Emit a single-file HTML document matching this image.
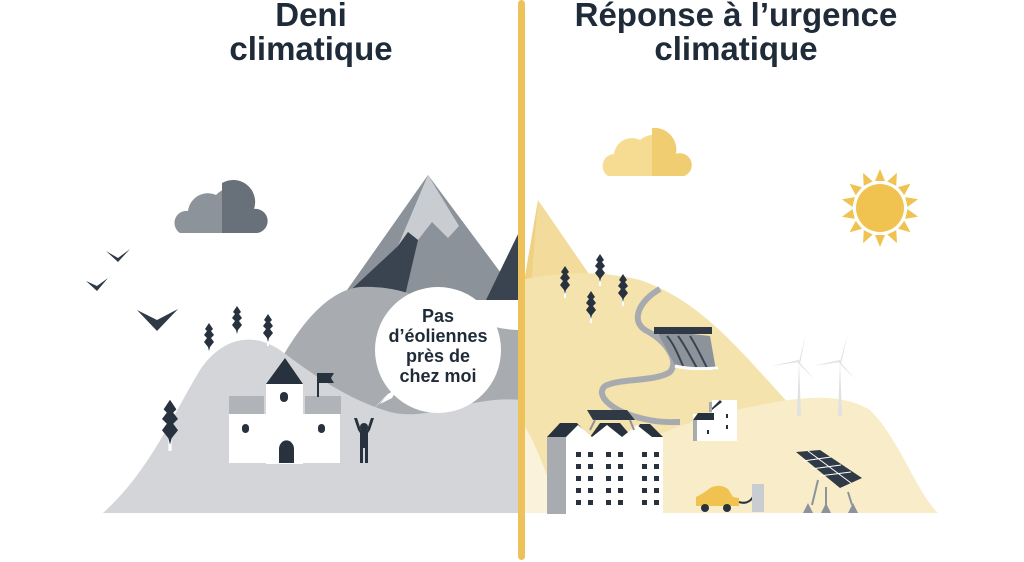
<!DOCTYPE html>
<html><head><meta charset="utf-8"><style>
html,body{margin:0;padding:0;background:#fff;width:1024px;height:562px;overflow:hidden}
svg{display:block}
text{font-family:"Liberation Sans",sans-serif;font-weight:bold;fill:#1f2b38}
</style></head><body>
<svg width="1024" height="562" viewBox="0 0 1024 562" xmlns="http://www.w3.org/2000/svg">
<defs>
<g id="tree"><rect x="-1" y="0" width="2" height="30" fill="#fff"/><path d="M0,-2 L4,4 L2,6 L5,10 L2,13 L5,17 L1,22 L0,26 L-1,22 L-5,17 L-2,13 L-5,10 L-2,6 L-4,4Z" fill="#27323e"/></g>
</defs>
<!-- titles -->
<text x="311" y="26" font-size="33" text-anchor="middle">Deni</text>
<text x="311" y="60" font-size="33" text-anchor="middle">climatique</text>
<text x="736" y="26" font-size="33" text-anchor="middle">Réponse à l’urgence</text>
<text x="736" y="60" font-size="33" text-anchor="middle">climatique</text>

<!-- LEFT -->
<path d="M180,233 a12,12 0 0 1 8,-22 a20,20 0 0 1 28,-16 a22,22 0 0 1 38,14 a12,12 0 0 1 3,24 Z" fill="#8d939a"/>
<path d="M222,183 a22,22 0 0 1 32,26 a12,12 0 0 1 3,24 L222,233Z" fill="#68717a"/>
<path d="M106,251 L118,258 L130,249 L118,262Z" fill="#2f3a46"/>
<path d="M86,281 L97,286 L108,278 L97,291Z" fill="#2f3a46"/>
<path d="M137,310 L157,320 L178,309 L157,331Z" fill="#2f3a46"/>
<path d="M340,300 L428,175 L521,300Z" fill="#8c929a"/>
<path d="M428,175 L459,226 L448,238 L432,222 L418,240 L408,232 L398,246Z" fill="#c9ccd0"/>
<path d="M340,300 L398,246 L408,232 L418,240 L404,300Z" fill="#3a4450"/>
<path d="M486,300 L521,228 L521,300Z" fill="#3a4450"/>
<path d="M270,380 C300,320 330,290 360,287 C400,285 430,300 470,320 C500,330 515,330 521,330 L521,513 L270,513Z" fill="#a8acb1"/>
<path d="M103,513 C150,470 170,420 200,370 C220,340 250,330 280,350 C320,380 350,400 390,412 C430,422 470,395 521,400 L521,513Z" fill="#d3d5d8"/>
<circle cx="438" cy="350" r="63" fill="#fff"/>
<path d="M372,410 L385,398 L380,404 L392,398 L398,388 L388,394 L392,390Z" fill="#fff"/>
<text x="438" y="322" font-size="18" text-anchor="middle">Pas</text>
<text x="438" y="342" font-size="18" text-anchor="middle">d’éoliennes</text>
<text x="438" y="362" font-size="18" text-anchor="middle">près de</text>
<text x="438" y="382" font-size="18" text-anchor="middle">chez moi</text>
<use href="#tree" x="209" y="325"/>
<use href="#tree" x="237" y="308"/>
<use href="#tree" x="268" y="316"/>
<g transform="translate(170,403) scale(1.6)"><use href="#tree"/></g>
<rect x="229" y="396" width="35" height="18" fill="#b0b3b7"/>
<rect x="305" y="396" width="36" height="18" fill="#b0b3b7"/>
<rect x="229" y="414" width="111" height="49" fill="#fff"/>
<rect x="266" y="384" width="37" height="80" fill="#fff"/>
<path d="M266,384 L285,358 L303,384Z" fill="#27323e"/>
<path d="M279,463 v-14 a7,8 0 0 1 15,0 v14Z" fill="#27323e"/>
<rect x="280" y="392" width="8" height="10" rx="4" fill="#27323e"/>
<rect x="242" y="424" width="7" height="9" rx="3.5" fill="#27323e"/>
<rect x="318" y="424" width="7" height="9" rx="3.5" fill="#27323e"/>
<rect x="317" y="373" width="2" height="24" fill="#27323e"/>
<path d="M319,373 h15 l-3,5 l3,5 h-15Z" fill="#27323e"/>
<circle cx="364" cy="427" r="4" fill="#27323e"/>
<path d="M354,418 L358,430 L360,433 V463 H363 V448 H365 V463 H368 V433 L370,430 L374,418 L371,418 L367,430 H361 L357,418Z" fill="#27323e"/>

<!-- RIGHT -->
<path d="M521,300 L538,200 L600,290Z" fill="#f3dc9b"/>
<path d="M521,300 L538,200 L530,300Z" fill="#efd184"/>
<path d="M521,280 C560,272 600,270 640,280 C700,300 740,350 790,405 L521,513Z" fill="#f5e3ae"/>
<path d="M560,513 C600,450 680,420 760,405 C800,397 840,392 870,410 C900,440 915,490 938,513Z" fill="#f9ecc8"/>
<path d="M521,420 C540,450 548,480 560,513 L521,513Z" fill="#fbf2db"/>
<g transform="translate(880,208)" fill="#f0c24f">
<path d="M-5,-27 L0,-39 L5,-27Z"/><path d="M-5,-27 L0,-39 L5,-27Z" transform="rotate(25.7)"/><path d="M-5,-27 L0,-39 L5,-27Z" transform="rotate(51.4)"/><path d="M-5,-27 L0,-39 L5,-27Z" transform="rotate(77.1)"/><path d="M-5,-27 L0,-39 L5,-27Z" transform="rotate(102.8)"/><path d="M-5,-27 L0,-39 L5,-27Z" transform="rotate(128.5)"/><path d="M-5,-27 L0,-39 L5,-27Z" transform="rotate(154.2)"/><path d="M-5,-27 L0,-39 L5,-27Z" transform="rotate(180)"/><path d="M-5,-27 L0,-39 L5,-27Z" transform="rotate(205.7)"/><path d="M-5,-27 L0,-39 L5,-27Z" transform="rotate(231.4)"/><path d="M-5,-27 L0,-39 L5,-27Z" transform="rotate(257.1)"/><path d="M-5,-27 L0,-39 L5,-27Z" transform="rotate(282.8)"/><path d="M-5,-27 L0,-39 L5,-27Z" transform="rotate(308.5)"/><path d="M-5,-27 L0,-39 L5,-27Z" transform="rotate(334.2)"/>
<circle r="27" fill="#fff"/>
<circle r="24"/>
</g>
<path d="M608,176 a12,12 0 0 1 6,-22 a18,18 0 0 1 26,-14 a22,22 0 0 1 36,14 a11,11 0 0 1 8,22Z" fill="#f6dc92"/>
<path d="M652,128 a22,22 0 0 1 24,26 a11,11 0 0 1 8,22 L652,176Z" fill="#f1cd72"/>
<use href="#tree" x="565" y="268"/>
<use href="#tree" x="600" y="256"/>
<use href="#tree" x="591" y="293"/>
<use href="#tree" x="623" y="276"/>
<path d="M660,289 C640,300 630,320 645,330 C665,340 680,360 670,372 C655,382 620,378 605,386 C595,395 610,410 640,418 C660,423 670,422 680,422" fill="none" stroke="#a7abb0" stroke-width="6"/>
<path d="M656,330 L675,365 L716,370 L710,336Z" fill="#8d939a"/>
<path d="M667,336 C675,345 680,360 684,368 M678,336 C685,345 692,360 697,368 M690,336 C697,347 703,360 707,368" stroke="#3a4450" stroke-width="2" fill="none"/>
<rect x="654" y="327" width="58" height="7" fill="#2f3a46"/>
<path d="M675,366 Q690,370 718,368" stroke="#fff" stroke-width="3" fill="none"/>
<g fill="#dfe1e3">
<path d="M797,416 L799,362 L801,416Z"/><path d="M799,362 L806,333 L800,364Z"/><path d="M799,362 L771,366 L799,360Z"/><path d="M799,362 L815,380 L798,363Z"/>
<path d="M838,416 L840,362 L842,416Z"/><path d="M840,362 L848,333 L841,364Z"/><path d="M840,362 L812,366 L840,360Z"/><path d="M840,362 L856,380 L839,363Z"/>
</g>
<rect x="712" y="400" width="25" height="41" fill="#fff"/>
<rect x="709" y="402" width="3" height="10" fill="#a8acb1"/>
<rect x="693" y="414" width="20" height="27" fill="#fff"/>
<rect x="693" y="420" width="4" height="21" fill="#a8acb1"/>
<path d="M693,420 L698,413 L714,413 L714,420Z" fill="#27323e"/>
<path d="M712,408 L720,400 L722,402 L712,410Z" fill="#27323e"/>
<rect x="726" y="414" width="2" height="4" fill="#27323e"/><rect x="726" y="425" width="2" height="4" fill="#27323e"/><rect x="707" y="430" width="2" height="4" fill="#27323e"/>
<path d="M547,437 L560,423 L577,423 L590,437 L600,423 L620,423 L632,437 L640,424 L650,424 L663,437Z" fill="#27323e"/>
<rect x="547" y="437" width="19" height="77" fill="#a8acb1"/>
<path d="M566,437 L578,425 L592,437 L607,425 L622,437 L637,425 L652,437 L663,437 L663,514 L566,514Z" fill="#fff"/>
<g fill="#27323e">
<g id="wrow"><rect x="576" y="452" width="5" height="5"/><rect x="588" y="452" width="5" height="5"/><rect x="606" y="452" width="5" height="5"/><rect x="618" y="452" width="5" height="5"/><rect x="642" y="452" width="5" height="5"/><rect x="654" y="452" width="5" height="5"/></g>
<use href="#wrow" y="12"/><use href="#wrow" y="24"/><use href="#wrow" y="36"/><use href="#wrow" y="48"/>
</g>
<path d="M587,410 L611,410 L617,420 L593,420Z M611,410 L627,410 L635,420 L617,420Z" fill="#2f3a46"/>
<path d="M595,420 L590,430 M630,420 L634,430" stroke="#8d939a" stroke-width="2"/>
<path d="M696,504 L696,497 Q706,492 710,488 Q720,483 728,489 L733,497 L739,498 L739,506 L696,506Z" fill="#f0c24f"/>
<circle cx="705" cy="508" r="4" fill="#27323e"/><circle cx="727" cy="508" r="4" fill="#27323e"/>
<path d="M739,502 Q748,505 753,497" stroke="#27323e" stroke-width="2" fill="none"/>
<rect x="752" y="484" width="12" height="28" fill="#c9ccd0"/>
<!-- solar tracker -->
<path d="M796,452 L820,450 L862,478 L840,488Z" fill="#2f3a46"/>
<path d="M808,451 L851,483 M803,461 L831,457 M811,469 L841,465 M819,476 L851,472" stroke="#fff" stroke-width="1"/>
<path d="M826,487 V505 M812,505 L818,480 M852,505 L848,492" stroke="#8d939a" stroke-width="2"/>
<path d="M803,513 L808,503 L813,513Z M821,513 L826,503 L831,513Z M848,513 L853,503 L858,513Z" fill="#8d939a"/>
<rect x="518" y="0" width="7" height="560" rx="3.5" fill="#eec25a"/>
</svg>
</body></html>
